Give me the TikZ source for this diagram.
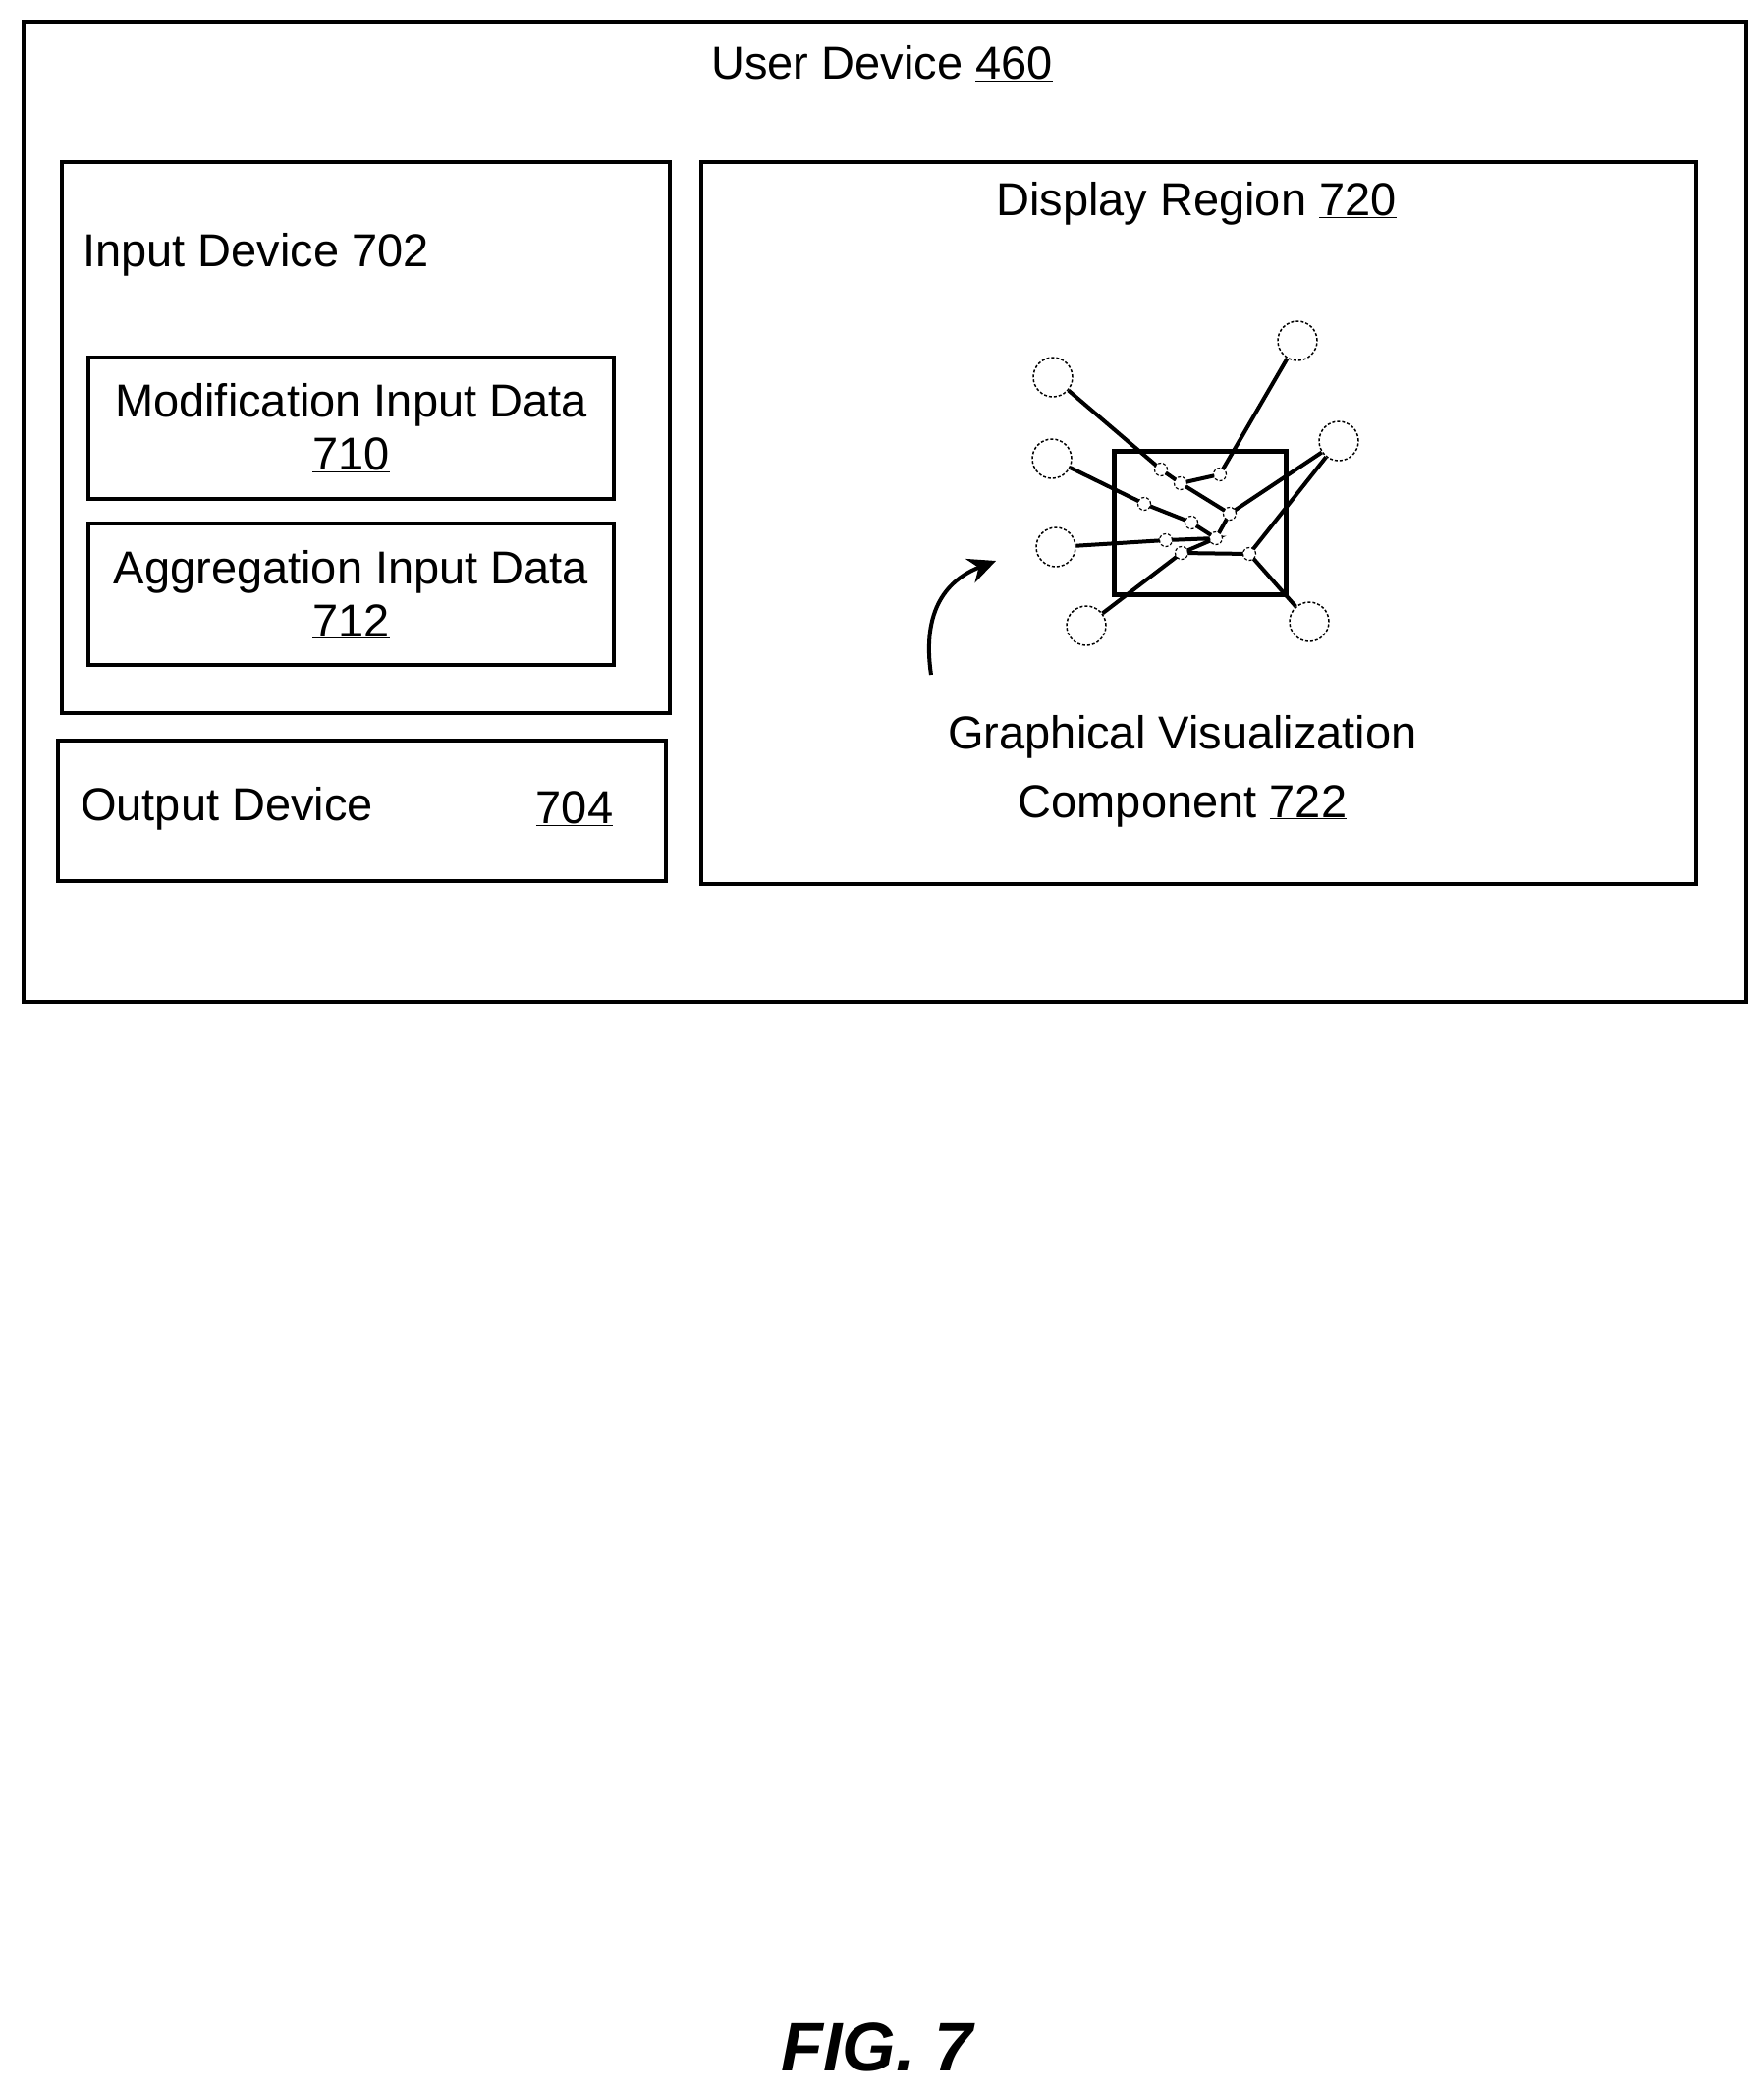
\documentclass[tikz,border=0pt]{standalone}
\usepackage{fontspec}
\setmainfont{Liberation Sans}
\usetikzlibrary{arrows.meta}
\begin{document}
\begin{tikzpicture}[x=1pt,y=-1pt,
  box/.style={draw,line width=4pt},
  lbl/.style={font=\fontsize{47}{54}\selectfont,inner sep=0pt},
  big/.style={circle,draw,densely dashed,line width=1.5pt,minimum size=40pt,inner sep=0pt},
  sm/.style={circle,draw,densely dashed,line width=1.2pt,minimum size=13pt,inner sep=0pt,fill=white},
  edge/.style={line width=4pt}]
\useasboundingbox (0,0) rectangle (1796,2134);
\node[box,minimum width=1754pt,minimum height=998pt,anchor=north west] (ud) at (22,20) {};
\node[lbl] (udt) at (898,65) {User Device \underline{460}};
\node[box,minimum width=619pt,minimum height=561pt,anchor=north west] (in) at (61,163) {};
\node[lbl,anchor=west] (int) at (84,259) {Input Device 702};
\node[box,minimum width=535pt,minimum height=144pt,anchor=north west,align=center,lbl] (mod) at (88,362) {Modification Input Data\\\underline{710}};
\node[box,minimum width=535pt,minimum height=144pt,anchor=north west,align=center,lbl] (agg) at (88,531) {Aggregation Input Data\\\underline{712}};
\node[box,minimum width=619pt,minimum height=143pt,anchor=north west] (out) at (57,752) {};
\node[lbl,anchor=west] (outt) at (82,823) {Output Device};
\node[lbl] (outn) at (585,823) {\underline{704}};
\node[box,minimum width=1013pt,minimum height=735pt,anchor=north west] (disp) at (712,163) {};
\node[lbl] (dispt) at (1218,207) {Display Region \underline{720}};
\node[lbl,align=center] (gvc) at (1204,785) {Graphical Visualization\\[16pt]Component \underline{722}};
\node[font=\fontsize{70}{80}\selectfont\bfseries\itshape,inner sep=0pt] (fig) at (893,2084) {FIG. 7};
% graph
\node[draw,line width=5pt,minimum width=175pt,minimum height=146pt,anchor=north west] (sq) at (1132,457) {};
\node[big] (B1) at (1072,384) {};
\node[big] (B2) at (1321,347) {};
\node[big] (B3) at (1363,449) {};
\node[big] (B4) at (1071,467) {};
\node[big] (B5) at (1075,557) {};
\node[big] (B6) at (1106,637) {};
\node[big] (B7) at (1333,633) {};
\coordinate (a) at (1182,478); \coordinate (b) at (1202,492); \coordinate (c) at (1242,483);
\coordinate (d) at (1252,523); \coordinate (e) at (1165,513); \coordinate (f) at (1213,532);
\coordinate (g) at (1238,548); \coordinate (h) at (1187,550); \coordinate (i) at (1203,563);
\coordinate (j) at (1272,564);
\draw[edge] (B1) -- (a) -- (b) -- (d) -- (B3);
\draw[edge] (b) -- (c) -- (B2);
\draw[edge] (B4) -- (e) -- (f) -- (g) -- (d);
\draw[edge] (B5) -- (h) -- (g) -- (i) -- (B6);
\draw[edge] (i) -- (j) -- (B3);
\draw[edge] (j) -- (B7);
\foreach \p in {a,b,c,d,e,f,g,h,i,j} \node[sm] (n\p) at (\p) {};
\coordinate (ar0) at (948,687); \coordinate (ar1) at (1014,571);
\draw[line width=4pt,-{Stealth[length=28pt,width=26pt]}] (ar0) .. controls (938,620) and (965,590) .. (ar1);
\end{tikzpicture}
\end{document}
